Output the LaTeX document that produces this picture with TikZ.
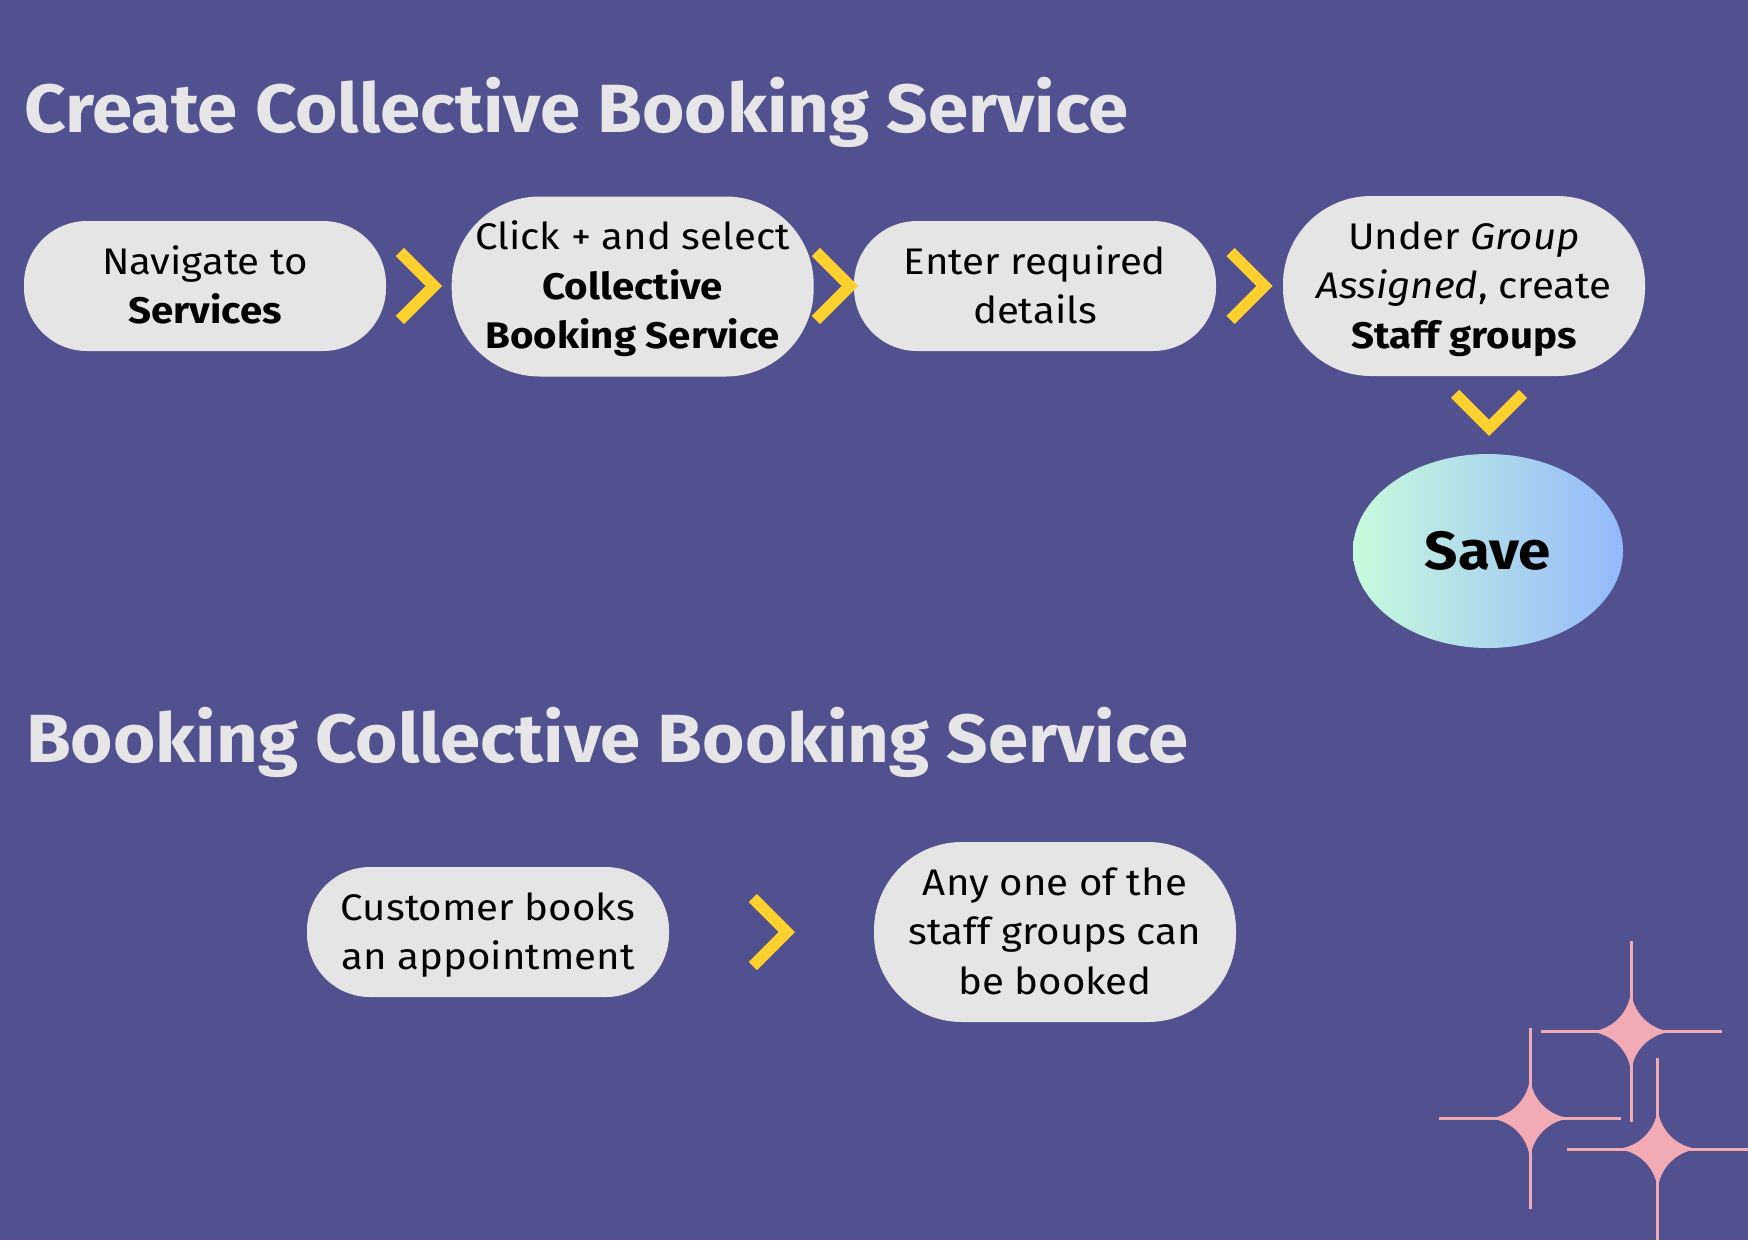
\documentclass[tikz,border=0pt]{standalone}
\usepackage{fontspec}
\setmainfont{Fira Sans}[FakeStretch=1.087]
\newfontfamily\titlefont{Fira Sans}[FakeStretch=1.064]
\usetikzlibrary{shapes.geometric}
\definecolor{bgpurple}{RGB}{82,81,143}
\definecolor{pillgray}{RGB}{229,229,229}
\definecolor{titlegray}{RGB}{230,230,232}
\definecolor{chevyellow}{RGB}{255,208,46}
\definecolor{sparkpink}{RGB}{242,171,181}
\definecolor{savemint}{RGB}{200,250,220}
\definecolor{saveblue}{RGB}{148,184,252}
\newcommand{\mysparkle}[3]{%
  \draw[sparkline] (#1-#3,#2) -- (#1+#3,#2) (#1,#2-#3) -- (#1,#2+#3);
  \fill[sparkpink] (#1+44,#2) .. controls (#1+19.7,#2) and (#1,#2+19.7) .. (#1,#2+44)
    .. controls (#1,#2+19.7) and (#1-19.7,#2) .. (#1-44,#2)
    .. controls (#1-19.7,#2) and (#1,#2-19.7) .. (#1,#2-44)
    .. controls (#1,#2-19.7) and (#1+19.7,#2) .. cycle;}
\begin{document}
\begin{tikzpicture}[x=1pt,y=-1pt,
  titletext/.style={anchor=base west, inner sep=0pt, text=titlegray,
    font=\titlefont\fontsize{68.2}{80}\selectfont\bfseries},
  pill/.style={fill=pillgray, inner sep=0pt, minimum width=362pt, align=center,
    text depth=0pt, font=\fontsize{37}{49.5}\selectfont},
  twoline/.style={text height=75pt},
  threeline/.style={text height=124.5pt},
  shortpill/.style={pill, twoline, minimum height=130pt, rounded corners=63pt},
  tallpill/.style={pill, threeline, minimum height=180pt, rounded corners=88pt},
  chev/.style={draw=chevyellow, line width=11.6pt, line join=miter, line cap=butt},
  sparkline/.style={draw=sparkpink, line width=3pt},
  savebubble/.style={ellipse, minimum width=270pt, minimum height=194pt, inner sep=0pt,
    left color=savemint, right color=saveblue, text height=37pt, text depth=0pt,
    font=\fontsize{53.7}{60}\selectfont\bfseries}]
\useasboundingbox (0,0) rectangle (1748,1240);
\fill[bgpurple] (0,0) rectangle (1748,1240);

\node[titletext] (title1) at (24,132.5) {Create Collective Booking Service};
\node[titletext] (title2) at (26,762.7) {Booking Collective Booking Service};

\node[shortpill] (p1) at (205,286) {Navigate to\\\textbf{Services}};
\node[tallpill] (p2) at (632.7,286.5) {Click + and select\\\textbf{Collective}\\\textbf{Booking Service}};
\node[shortpill] (p3) at (1035,286) {Enter required\\details};
\node[tallpill] (p4) at (1464,286) {Under \textit{Group}\\\textit{Assigned}, create\\\textbf{Staff groups}};
\node[savebubble] (save) at (1488,551) {Save};

\node[shortpill] (p5) at (488,932) {Customer books\\an appointment};
\node[tallpill] (p6) at (1055,932) {Any one of the\\staff groups can\\be booked};

\draw[chev] (433.8,286) ++(-34,-34) -- ++(34,34) -- ++(-34,34);
\draw[chev] (849.8,286) ++(-34,-34) -- ++(34,34) -- ++(-34,34);
\draw[chev] (1264.5,286) ++(-34,-34) -- ++(34,34) -- ++(-34,34);
\draw[chev] (1489,427.8) ++(-34,-34) -- ++(34,34) -- ++(34,-34);
\draw[chev] (786.8,932) ++(-34,-34) -- ++(34,34) -- ++(-34,34);

\mysparkle{1631}{1031.7}{90.5}
\mysparkle{1530}{1118.3}{90.8}
\mysparkle{1657.7}{1149}{91}
\end{tikzpicture}
\end{document}
